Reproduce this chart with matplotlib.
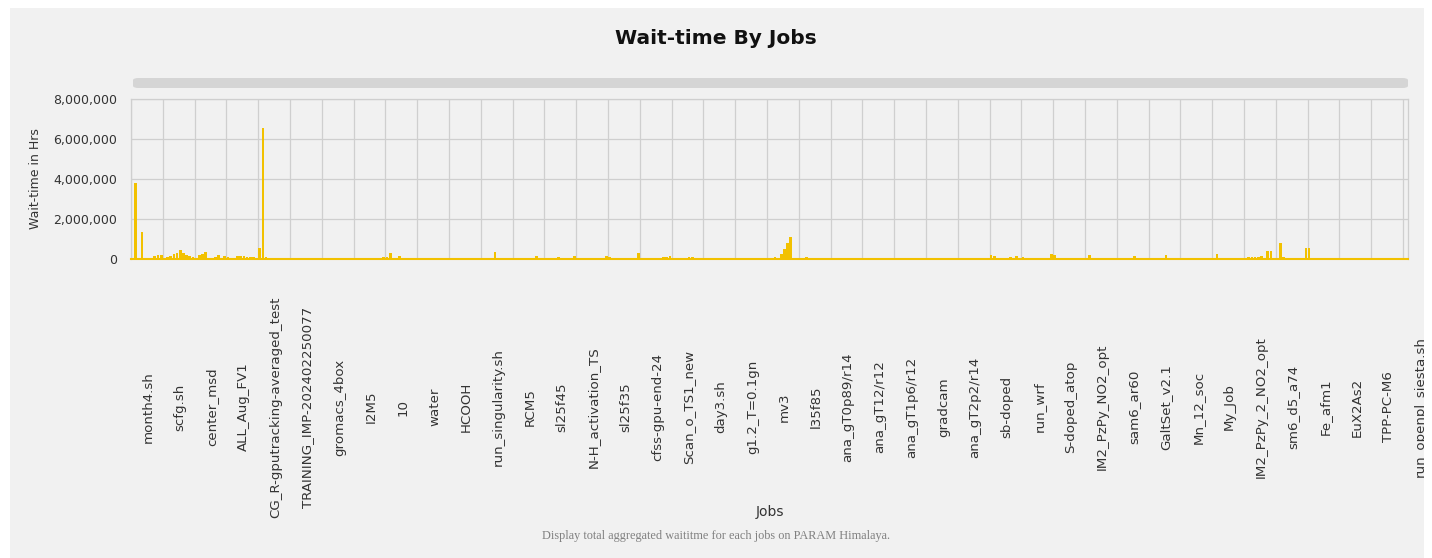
import matplotlib
matplotlib.use("Agg")
import matplotlib.pyplot as plt
from matplotlib.patches import Rectangle, FancyBboxPatch
from matplotlib.ticker import FuncFormatter
from matplotlib.transforms import blended_transform_factory, Bbox

# ---------------- data ----------------
title = "Wait-time By Jobs"
y_label = "Wait-time in Hrs"
x_label = "Jobs"
caption = "Display total aggregated waititme for each jobs on PARAM Himalaya."

# labels shown on the axis (one every 10 jobs)
tick_labels = [
    "month4.sh", "scfg.sh", "center_msd", "ALL_Aug_FV1",
    "CG_R-gputracking-averaged_test", "TRAINING_IMP-202402250077",
    "gromacs_4box", "I2M5", "10", "water", "HCOOH", "run_singularity.sh",
    "RCM5", "sl25f45", "N-H_activation_TS", "sl25f35", "cfss-gpu-end-24",
    "Scan_o_TS1_new", "day3.sh", "g1.2_T=0.1gn", "mv3", "l35f85",
    "ana_gT0p89/r14", "ana_gT12/r12", "ana_gT1p6/r12", "gradcam",
    "ana_gT2p2/r14", "sb-doped", "run_wrf", "S-doped_atop",
    "IM2_PzPy_NO2_opt", "sam6_ar60", "GaltSet_v2.1", "Mn_12_soc", "My_Job",
    "IM2_PzPy_2_NO2_opt", "sm6_d5_a74", "Fe_afm1", "EuX2As2", "TPP-PC-M6",
    "run_openpl_siesta.sh",
]
label_every = 10

# aggregated wait time per job (hours), in job order
wait_hours = [
    60000, 3780000, 60000, 1370000, 30000, 20000, 40000, 150000, 180000, 190000,
    30000, 100000, 150000, 250000, 300000, 430000, 300000, 200000, 130000, 80000,
    30000, 200000, 250000, 350000, 30000, 20000, 100000, 220000, 30000, 150000,
    120000, 60000, 40000, 130000, 140000, 140000, 120000, 100000, 80000, 60000,
    550000, 6550000, 80000, 50000, 70000, 30000, 20000, 20000, 15000, 15000,
    15000, 15000, 15000, 15000, 15000, 15000, 15000, 15000, 15000, 15000,
    15000, 15000, 15000, 15000, 15000, 15000, 15000, 60000, 50000, 20000,
    20000, 20000, 20000, 20000, 20000, 20000, 20000, 60000, 30000, 100000,
    120000, 300000, 30000, 20000, 150000, 40000, 20000, 20000, 20000, 30000,
    40000, 50000, 30000, 20000, 40000, 30000, 20000, 50000, 30000, 20000,
    20000, 30000, 40000, 50000, 30000, 20000, 30000, 20000, 40000, 20000,
    20000, 30000, 20000, 20000, 330000, 20000, 30000, 40000, 20000, 20000,
    20000, 30000, 20000, 20000, 20000, 40000, 20000, 150000, 20000, 30000,
    20000, 20000, 20000, 20000, 80000, 60000, 70000, 20000, 20000, 150000,
    20000, 20000, 20000, 20000, 20000, 50000, 20000, 20000, 20000, 130000,
    120000, 20000, 20000, 20000, 20000, 20000, 20000, 20000, 20000, 300000,
    20000, 20000, 20000, 20000, 20000, 20000, 50000, 80000, 120000, 150000,
    20000, 20000, 20000, 20000, 20000, 100000, 90000, 20000, 20000, 20000,
    20000, 20000, 20000, 50000, 20000, 20000, 20000, 20000, 20000, 20000,
    20000, 20000, 20000, 20000, 20000, 20000, 20000, 20000, 20000, 40000,
    20000, 20000, 100000, 20000, 250000, 500000, 780000, 1120000, 30000, 20000,
    20000, 20000, 100000, 20000, 20000, 20000, 20000, 20000, 20000, 20000,
    20000, 20000, 20000, 40000, 40000, 20000, 20000, 20000, 20000, 20000,
    20000, 20000, 20000, 20000, 20000, 20000, 20000, 20000, 20000, 20000,
    20000, 20000, 20000, 20000, 20000, 20000, 40000, 60000, 40000, 20000,
    20000, 20000, 30000, 30000, 20000, 20000, 20000, 20000, 20000, 20000,
    20000, 20000, 20000, 20000, 20000, 20000, 20000, 20000, 20000, 20000,
    200000, 150000, 20000, 20000, 40000, 20000, 80000, 20000, 150000, 20000,
    120000, 20000, 50000, 20000, 40000, 20000, 50000, 20000, 60000, 250000,
    220000, 20000, 20000, 20000, 40000, 20000, 20000, 20000, 20000, 20000,
    20000, 200000, 20000, 20000, 20000, 20000, 20000, 20000, 20000, 20000,
    20000, 20000, 20000, 20000, 20000, 150000, 20000, 20000, 20000, 20000,
    20000, 20000, 20000, 20000, 20000, 200000, 20000, 20000, 20000, 20000,
    20000, 20000, 20000, 20000, 20000, 20000, 20000, 20000, 20000, 20000,
    20000, 250000, 60000, 20000, 20000, 20000, 20000, 20000, 20000, 20000,
    20000, 120000, 100000, 110000, 120000, 130000, 20000, 400000, 380000, 20000,
    20000, 780000, 100000, 20000, 20000, 20000, 20000, 20000, 20000, 540000,
    540000, 20000, 20000, 20000, 20000, 20000, 20000, 20000, 20000, 20000,
    20000, 20000, 20000, 20000, 30000, 30000, 20000, 20000, 20000, 20000,
    20000, 20000, 20000, 20000, 20000, 20000, 20000, 20000, 20000, 20000,
    15000,
]
y_ticks = [0, 2000000, 4000000, 6000000, 8000000]

# ---------------- style ----------------
BAR = "#f2c100"
PANEL = "#f1f1f1"
GRID = "#cfcfcf"
TEXT = "#333333"

W, H = 1432, 558
fig = plt.figure(figsize=(W / 100, H / 100), dpi=100, facecolor="white")

# chart panel background
fig.patches.append(Rectangle((10 / W, 0), (1424 - 10) / W, (558 - 8) / H,
                             transform=fig.transFigure, facecolor=PANEL,
                             edgecolor="none", zorder=-10))
# scrollbar
fig.patches.append(FancyBboxPatch((133 / W, (558 - 88) / H), (1408 - 133) / W, 10 / H,
                                  boxstyle="round,pad=0,rounding_size=0.004",
                                  transform=fig.transFigure, facecolor="#d5d5d5",
                                  edgecolor="none", zorder=-5))

left, right = 131 / W, 1408 / W
bottom, top = (558 - 259) / H, (558 - 99) / H
ax = fig.add_axes([left, bottom, right - left, top - bottom])
ax.set_facecolor(PANEL)

n = len(wait_hours)
xs = list(range(n))
ax.bar(xs, wait_hours, width=0.85, color=BAR, edgecolor="none", zorder=3)

ax.set_xlim(-0.5, n + 0.1)
ax.set_ylim(0, 8000000)
ax.set_yticks(y_ticks)
ax.yaxis.set_major_formatter(FuncFormatter(lambda v, p: f"{int(v):,}"))
ax.tick_params(axis="y", length=0, pad=10, labelsize=9, labelcolor=TEXT)
ax.tick_params(axis="x", length=0, labelbottom=False)

# gridlines
for k in range(len(tick_labels)):
    ax.axvline(-0.5 + k * label_every, color=GRID, lw=0.9, zorder=1)
for yv in y_ticks:
    ax.axhline(yv, color=GRID, lw=0.9, zorder=1)

for s in ["top", "right", "left"]:
    ax.spines[s].set_color(GRID)
    ax.spines[s].set_linewidth(0.9)
ax.spines["bottom"].set_color(BAR)
ax.spines["bottom"].set_linewidth(1.5)
ax.spines["bottom"].set_zorder(4)

# x category labels (one per group of 10 jobs), clipped to the chart panel
panel_clip = Bbox.from_extents(10, 0, 1424, H)
trans = blended_transform_factory(ax.transData, ax.transAxes)
for k, lab in enumerate(tick_labels):
    t = ax.text(k * label_every + 5, -0.925, lab, rotation=90, ha="center", va="center",
                fontsize=9.6, color=TEXT, transform=trans)
    t.set_clip_box(panel_clip)
    t.set_clip_on(True)

ax.set_ylabel(y_label, fontsize=9, color=TEXT, labelpad=8)
fig.text((left + right) / 2, 1 - 512 / H, x_label, ha="center", va="center",
         fontsize=10, color=TEXT)
fig.text(0.5, 1 - 38 / H, title, ha="center", va="center", fontsize=14.5,
         fontweight="bold", color="#111111")
fig.text(0.5, 1 - 536 / H, caption, ha="center", va="center", fontsize=8.8,
         color="#808080", family="Liberation Serif")

fig.savefig("out.png", dpi=100, facecolor="white")
